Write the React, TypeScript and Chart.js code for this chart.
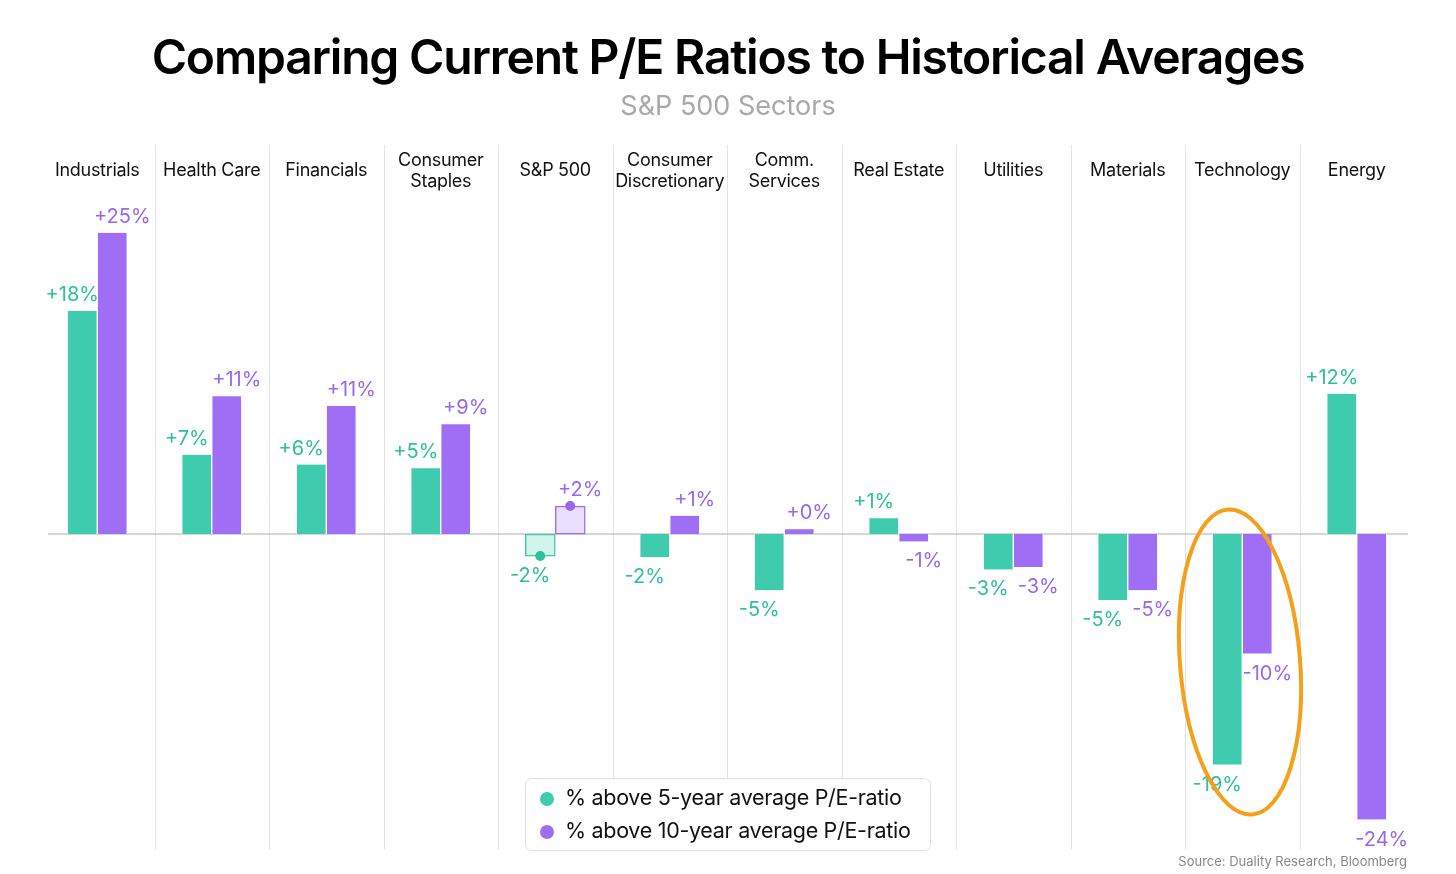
import React, { useEffect, useRef } from "react";
import { Chart, registerables } from "chart.js";
Chart.register(...registerables);

const categories = ["Industrials", "Health Care", "Financials", "Consumer\nStaples", "S&P 500", "Consumer\nDiscretionary", "Comm.\nServices", "Real Estate", "Utilities", "Materials", "Technology", "Energy"];
const fiveYear = [18.3, 6.5, 5.7, 5.4, -1.8, -1.9, -4.6, 1.3, -2.9, -5.4, -18.9, 11.5];
const tenYear = [24.7, 11.3, 10.5, 9.0, 2.3, 1.5, 0.4, -0.6, -2.7, -4.6, -9.8, -23.4];
const fiveLabels = ["+18%", "+7%", "+6%", "+5%", "-2%", "-2%", "-5%", "+1%", "-3%", "-5%", "-19%", "+12%"];
const tenLabels = ["+25%", "+11%", "+11%", "+9%", "+2%", "+1%", "+0%", "-1%", "-3%", "-5%", "-10%", "-24%"];
const legendLabels = ["% above 5-year average P/E-ratio", "% above 10-year average P/E-ratio"];

const GREEN = "#3ECBAE";
const PURPLE = "#A06EF5";
const GREEN_T = "#2DBF9E";
const PURPLE_T = "#9A66F0";
const HL = 4;

const overlay = {
  id: "overlay",
  beforeDatasetsDraw(chart: any) {
    const { ctx, chartArea: a, scales } = chart;
    const y0 = scales.y.getPixelForValue(0);
    const w = (a.right - a.left) / categories.length;
    ctx.save();
    ctx.strokeStyle = "#e3e3e3";
    ctx.lineWidth = 1;
    for (let i = 1; i < categories.length; i++) {
      const x = Math.round(a.left + w * i) + 0.5;
      ctx.beginPath(); ctx.moveTo(x, a.top); ctx.lineTo(x, a.bottom); ctx.stroke();
    }
    ctx.strokeStyle = "#c8c8c8";
    ctx.lineWidth = 1.5;
    ctx.beginPath(); ctx.moveTo(48, y0); ctx.lineTo(1408, y0); ctx.stroke();
    ctx.restore();
  },
  afterDraw(chart: any) {
    const { ctx, chartArea: a } = chart;
    const w = (a.right - a.left) / categories.length;
    ctx.save();
    ctx.textAlign = "center";
    ctx.textBaseline = "middle";
    ctx.fillStyle = "#000";
    ctx.font = "600 48px Inter";
    (ctx as any).letterSpacing = "-1.2px";
    ctx.fillText("Comparing Current P/E Ratios to Historical Averages", 728, 60);
    (ctx as any).letterSpacing = "0px";
    ctx.fillStyle = "#a9a9a9";
    ctx.font = "27px Inter";
    ctx.fillText("S&P 500 Sectors", 728, 107);
    ctx.fillStyle = "#111";
    ctx.font = "18px Inter";
    (ctx as any).letterSpacing = "-0.3px";
    categories.forEach((c, i) => {
      const x = a.left + w * (i + 0.5);
      const lines = c.split("\n");
      if (lines.length === 1) ctx.fillText(lines[0], x, 171);
      else { ctx.fillText(lines[0], x, 161); ctx.fillText(lines[1], x, 182); }
    });
    (ctx as any).letterSpacing = "0px";
    ctx.font = "20px Inter";
    [0, 1].forEach((d) => {
      const meta = chart.getDatasetMeta(d);
      const vals = d === 0 ? fiveYear : tenYear;
      const labs = d === 0 ? fiveLabels : tenLabels;
      ctx.fillStyle = d === 0 ? GREEN_T : PURPLE_T;
      meta.data.forEach((bar: any, i: number) => {
        const dx = d === 0 ? -10 : 10;
        const y = vals[i] >= 0 ? bar.y - 16 : bar.y + 20;
        ctx.fillText(labs[i], bar.x + dx, y);
        if (i === HL) {
          ctx.beginPath();
          ctx.arc(bar.x, bar.y, 5, 0, Math.PI * 2);
          ctx.fill();
        }
      });
    });
    ctx.strokeStyle = "#F5A01A";
    ctx.lineWidth = 4;
    ctx.beginPath();
    ctx.ellipse(1240, 662, 60, 153, -0.08, 0, Math.PI * 2);
    ctx.stroke();
    ctx.fillStyle = "rgba(255,255,255,0.95)";
    ctx.strokeStyle = "#dedede";
    ctx.lineWidth = 1;
    ctx.beginPath();
    (ctx as any).roundRect(525.5, 778.5, 405, 72, 6);
    ctx.fill(); ctx.stroke();
    ctx.textAlign = "left";
    ctx.font = "21.5px Inter";
    (ctx as any).letterSpacing = "-0.3px";
    legendLabels.forEach((l, i) => {
      const y = 799 + i * 33;
      ctx.fillStyle = i === 0 ? GREEN : PURPLE;
      ctx.beginPath(); ctx.arc(547, y, 7, 0, Math.PI * 2); ctx.fill();
      ctx.fillStyle = "#111";
      ctx.fillText(l, 565, y);
    });
    (ctx as any).letterSpacing = "0px";
    ctx.textAlign = "right";
    ctx.fillStyle = "#888";
    ctx.font = "13px Inter";
    ctx.fillText("Source: Duality Research, Bloomberg", 1407, 862);
    ctx.restore();
  },
};

export default function App() {
  const ref = useRef<HTMLCanvasElement>(null);
  useEffect(() => {
    document.body.style.margin = "0";
    const mk = (main: string, light: string) => ({
      backgroundColor: (c: any) => (c.dataIndex === HL ? light : main),
      borderColor: (c: any) => (c.dataIndex === HL ? main : "#ffffff"),
      borderWidth: (c: any) => (c.dataIndex === HL ? 1.5 : { left: 1, right: 1, top: 0, bottom: 0 }),
      borderSkipped: false as any,
      barThickness: 30,
    });
    const chart = new Chart(ref.current!, {
      type: "bar",
      data: {
        labels: categories,
        datasets: [
          { label: legendLabels[0], data: fiveYear, ...mk(GREEN, "#D3F4EC") } as any,
          { label: legendLabels[1], data: tenYear, ...mk(PURPLE, "#EADFFD") } as any,
        ],
      },
      options: {
        animation: false,
        responsive: false,
        layout: { padding: { left: 40, right: 42, top: 145, bottom: 24 } },
        plugins: { legend: { display: false }, title: { display: false }, tooltip: { enabled: false } },
        scales: {
          x: { display: false, grid: { display: false } },
          y: { display: false, min: -25.9, max: 31.9 },
        },
      },
      plugins: [overlay],
    });
    return () => chart.destroy();
  }, []);
  return <canvas ref={ref} width={1456} height={874} style={{ display: "block" }} />;
}
